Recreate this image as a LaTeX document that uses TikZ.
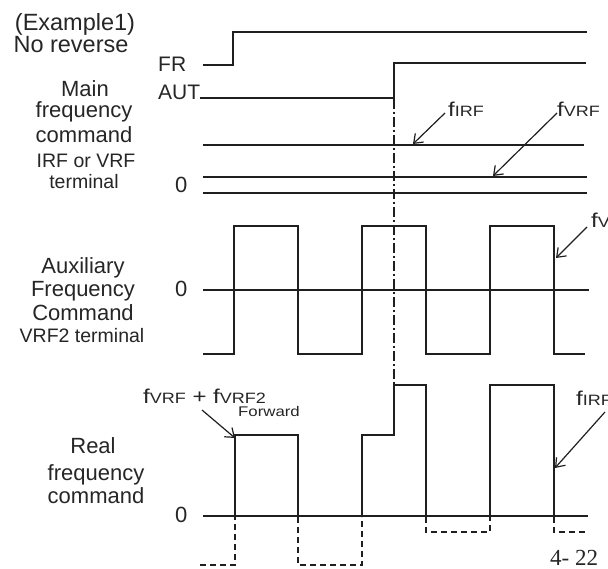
\documentclass[tikz,border=0pt]{standalone}
\usepackage{fontspec}
\setmainfont{Liberation Sans}
\newfontfamily\serifpg{Liberation Serif}
\usepackage{graphicx}
\usetikzlibrary{arrows.meta}
\newcommand{\fsub}[1]{\scalebox{1.2}[1]{\fontsize{20}{20}\selectfont f\fontsize{15}{15}\selectfont #1}}
\newcommand{\fplus}{\scalebox{1.2}[1]{\fontsize{20}{20}\selectfont\ + }}
\newcommand{\smallwide}[1]{\scalebox{1.2}[1]{\fontsize{14}{14}\selectfont #1}}
\begin{document}
\begin{tikzpicture}[x=1pt,y=-1pt,
  ink/.style={draw=black!88},
  sig/.style={ink, line width=1.8pt, line join=miter},
  zero/.style={ink, line width=1.1pt},
  neg/.style={ink, line width=1.5pt, dash pattern=on 6pt off 4pt},
  chain/.style={ink, line width=1.5pt, dash pattern=on 10pt off 3pt on 2pt off 3pt},
  ptr/.style={ink, line width=1.2pt, -{Straight Barb[length=8pt,width=12pt]}},
  txt/.style={inner sep=0pt, text=black!85},
  huge/.style={txt, font=\fontsize{23.5}{23.5}\selectfont, anchor=base},
  big/.style={txt, font=\fontsize{22}{22}\selectfont, anchor=base},
  mid/.style={txt, font=\fontsize{19.5}{19.5}\selectfont, anchor=base},
  sig lbl/.style={txt, font=\fontsize{21}{21}\selectfont, anchor=base west},
  zlbl/.style={txt, font=\fontsize{22}{22}\selectfont, anchor=base west},
  flbl/.style={txt, anchor=base west}]
\path[use as bounding box, clip] (0,0) rectangle (608,569);
\fill[white] (0,0) rectangle (608,569);

% ---- left labels ----
\node[huge] (ex) at (75,31) {(Example1)};
\node[huge] (nr) at (71,53) {No reverse};
\node[sig lbl] (fr) at (158,72) {FR};
\node[sig lbl] (aut) at (158,100) {AUT};

\node[big] (m1) at (85,97) {Main};
\node[big] (m2) at (84,118) {frequency};
\node[big] (m3) at (84,143) {command};
\node[mid] (m4) at (86,168) {IRF or VRF};
\node[mid] (m5) at (84,189) {terminal};
\node[zlbl] (z1) at (175,193) {0};

\node[big] (a1) at (83,274) {Auxiliary};
\node[big] (a2) at (83,297) {Frequency};
\node[big] (a3) at (83,321) {Command};
\node[mid] (a4) at (82,343) {VRF2 terminal};
\node[zlbl] (z2) at (175,297) {0};

\node[big] (r1) at (93,453) {Real};
\node[big] (r2) at (96,480) {frequency};
\node[big] (r3) at (96,503) {command};
\node[zlbl] (z3) at (175,522) {0};

% ---- top signals ----
\draw[sig] (203,65) -- (233,65) -- (233,32) -- (587,32);
\draw[sig] (200,98) -- (394,98) -- (394,63) -- (586,63);
\draw[sig] (203,145) -- (584,145);
\draw[sig] (203,177) -- (587,177);
\draw[zero] (203,193) -- (587,193);

% ---- auxiliary ----
\draw[zero] (203,290) -- (589,290);
\draw[sig] (203,354) -- (234,354) -- (234,226) -- (298,226) -- (298,354)
  -- (362,354) -- (362,226) -- (426,226) -- (426,354) -- (490,354)
  -- (490,226) -- (554,226) -- (554,354) -- (585,354);

% ---- real frequency ----
\draw[ink, line width=1.5pt] (203,516) -- (588,516);
\draw[sig] (235,516) -- (235,435) -- (298,435) -- (298,516);
\draw[sig] (362,516) -- (362,435) -- (394,435) -- (394,385) -- (426,385) -- (426,516);
\draw[sig] (490,516) -- (490,385) -- (554,385) -- (554,516);
\draw[neg] (200,565) -- (235,565) -- (235,517);
\draw[neg] (298,517) -- (298,565) -- (362,565) -- (362,517);
\draw[neg] (426,517) -- (426,532) -- (490,532) -- (490,517);
\draw[neg] (554,517) -- (554,532) -- (586,532);

% ---- dash-dot marker ----
\draw[chain] (394,99) -- (394,385);

% ---- value labels and pointers ----
\node[flbl] (lirf) at (448,117) {\fsub{IRF}};
\node[flbl] (lvrf) at (557,117) {\fsub{VRF}};
\node[flbl] (lvrf2) at (591,228) {\fsub{VRF2}};
\node[flbl] (lsum) at (143,403) {\fsub{VRF}\fplus\fsub{VRF2}};
\node[flbl] (lfwd) at (238,416) {\smallwide{Forward}};
\node[flbl] (lirf2) at (576,405) {\fsub{IRF}};
\node[txt, anchor=base west, font=\serifpg\fontsize{23}{23}\selectfont] (pg) at (550,565) {4- 22};

\coordinate (p1s) at (445,113); \coordinate (p1e) at (413,144);
\coordinate (p2s) at (557,113); \coordinate (p2e) at (493,176);
\coordinate (p3s) at (587,227); \coordinate (p3e) at (556,258);
\coordinate (p4s) at (202,410); \coordinate (p4e) at (235,438);
\coordinate (p5s) at (605,412); \coordinate (p5e) at (555,468);
\draw[ptr] (p1s) -- (p1e);
\draw[ptr] (p2s) -- (p2e);
\draw[ptr] (p3s) -- (p3e);
\draw[ptr] (p4s) -- (p4e);
\draw[ptr] (p5s) -- (p5e);
\end{tikzpicture}
\end{document}
